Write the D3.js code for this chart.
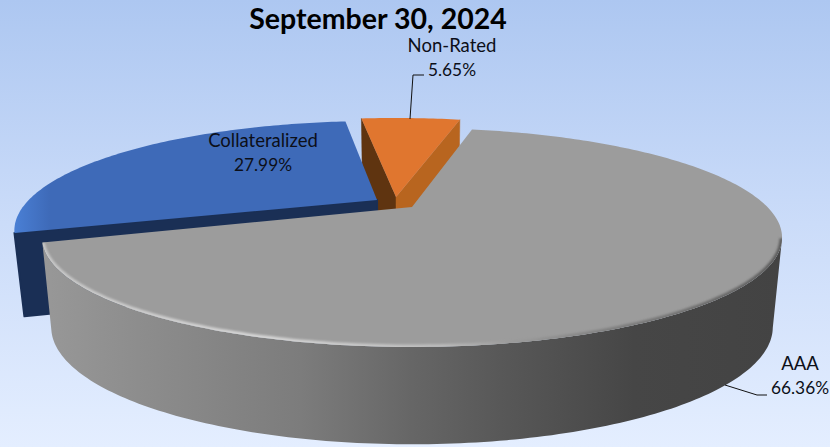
<!DOCTYPE html>
<html>
<head>
<meta charset="utf-8">
<script src="https://cdn.jsdelivr.net/npm/d3@7/dist/d3.min.js"></script>
<style>
  html, body { margin: 0; padding: 0; background: #e3eeff; }
  svg { display: block; }
  text { font-family: Lato, "Open Sans", sans-serif; fill: #0c0f18; }
</style>
</head>
<body>
<svg id="chart" width="830" height="447"></svg>
<script>
// Portfolio composition
const titleText = "September 30, 2024";
const categories = ["AAA", "Collateralized", "Non-Rated"];
const shares = [66.36, 27.99, 5.65];

// Tilted-disc projection
const W = 830, H = 447;
const cx = 412, cy = 207;
const radiusX = 355.4, radiusY = 101, perspective = 0.2785;
const firstSliceAngle = 12.4 * Math.PI / 180;
const depthScaleX = 0.975, depthScaleY = 1.07, depthShift = 73;

// Pull-out of each slice, angular correction, width scale, wall height trim
const pullDx = [0, -35, -16];
const pullDy = [0, -7, -10];
const pullRot = [0, 1.3, 0.8];
const pullScale = [1, 0.98, 1];
const wallTrim = [0, -6, 0];

// Colours per slice: top, cut face at slice start, cut face at slice end
const topFill = ["#9c9c9c", "url(#blueTop)", "#e0762f"];
const cutStart = [null, "#1a2f55", "#5f3410"];
const cutEnd = [null, null, "#b8651f"];

const svg = d3.select("#chart");
const defs = svg.append("defs");

function linear(id, attrs, stops) {
  const g = defs.append("linearGradient").attr("id", id).attr("gradientUnits", "userSpaceOnUse");
  Object.entries(attrs).forEach(([k, v]) => g.attr(k, v));
  stops.forEach(([o, c]) => g.append("stop").attr("offset", o).attr("stop-color", c));
}
linear("backdrop", {x1: 0, y1: 0, x2: 0, y2: H},
  [[0, "#adc7f1"], [0.5, "#cbdcf9"], [1, "#e4eeff"]]);
linear("wallShade", {x1: 42, y1: 0, x2: 782, y2: 0},
  [[0, "#989898"], [0.13, "#8d8d8d"], [0.35, "#7c7c7c"], [0.5, "#666666"],
   [0.62, "#585858"], [0.8, "#464646"], [1, "#434343"]]);
linear("blueTop", {x1: 13, y1: 0, x2: 50, y2: 0},
  [[0, "#4a80d6"], [1, "#3e6ab8"]]);
linear("rimShade", {x1: 42, y1: 0, x2: 782, y2: 0},
  [[0, "#c6c6c6"], [0.3, "#d6d6d6"], [0.54, "#bcbcbc"], [0.63, "#9c9c9c"],
   [0.76, "#808080"], [1, "#5c5c5c"]]);
defs.append("filter").attr("id", "soft").attr("x", "-5%").attr("y", "-5%").attr("width", "110%").attr("height", "110%")
  .append("feGaussianBlur").attr("stdDeviation", 1);

svg.append("rect").attr("width", W).attr("height", H).attr("fill", "url(#backdrop)");

const arcs = d3.pie().sort(null).startAngle(firstSliceAngle).endAngle(firstSliceAngle + 2 * Math.PI)(shares);

// Disc coordinates to screen, r = 0..1 from the slice apex
const project = (theta, r, i) => {
  const a = theta + pullRot[i] * Math.PI / 180;
  const u = r * Math.sin(a), v = -r * Math.cos(a);
  const w = 1 - perspective * v;
  return [cx + pullDx[i] + pullScale[i] * radiusX * u / w, cy + pullDy[i] + radiusY * v / w];
};
const lowerOf = i => ([x, y]) => [cx + (x - cx) * depthScaleX, y * depthScaleY + depthShift + wallTrim[i]];
const line = d3.line();

const rimPoints = (d, i) => {
  const n = Math.ceil((d.endAngle - d.startAngle) * 60);
  return d3.range(n + 1).map(k => project(d.startAngle + (d.endAngle - d.startAngle) * k / n, 1, i));
};

function drawSlice(i) {
  const d = arcs[i];
  const rim = rimPoints(d, i);
  const apex = project(0, 0, i);
  const lower = lowerOf(i);
  const g = svg.append("g").attr("class", "slice-" + i);
  const first = rim[0], last = rim[rim.length - 1];

  // outer wall: only the camera-facing stretch of the rim
  let facing = [];
  if (i === 0) facing = rim.slice(d3.greatestIndex(rim, p => p[0]));
  if (i === 1) facing = rim.slice(0, d3.leastIndex(rim, p => p[0]) + 1);
  if (facing.length > 1) {
    g.append("path")
      .attr("d", line(facing.concat(facing.map(lower).reverse())) + "Z")
      .attr("fill", i === 0 ? "url(#wallShade)" : cutStart[i]);
  }

  if (i !== 0) {
    // faces exposed by pulling the slice out
    [[first, cutStart[i]], [last, cutEnd[i]]].filter(([, fill]) => fill).forEach(([p, fill]) => {
      g.append("path")
        .attr("d", line([p, apex, lower(apex), lower(p)]) + "Z")
        .attr("fill", fill)
        .attr("stroke", fill)
        .attr("stroke-width", i === 1 ? 2 : 0.5)
        .attr("stroke-linejoin", "round");
    });
  }

  // top face
  const face = line([apex].concat(rim)) + "Z";
  g.append("path").attr("d", face).attr("fill", topFill[i]);

  if (i === 0) {
    // bevel along the front edge of the disc
    defs.append("clipPath").attr("id", "faceClip").append("path").attr("d", face);
    const front = rim.slice(d3.greatestIndex(rim, p => p[0]));
    g.append("g").attr("clip-path", "url(#faceClip)")
      .append("path").attr("d", line(front))
      .attr("fill", "none").attr("stroke", "url(#rimShade)")
      .attr("stroke-width", 5).attr("filter", "url(#soft)");
  }
}

// back to front
[2, 1, 0].forEach(drawSlice);

// Leader lines
const leaders = [
  [[410, 119], [413, 75], [424, 75]],
  [[725, 385], [757, 395], [767, 395]]
];
svg.selectAll("path.leader").data(leaders).join("path")
  .attr("class", "leader")
  .attr("d", d => line(d))
  .attr("fill", "none").attr("stroke", "#111").attr("stroke-width", 1);

// Title and value labels
svg.append("text").attr("x", 378).attr("y", 28.5).attr("text-anchor", "middle")
  .attr("font-size", 28.5).attr("font-weight", 700).style("fill", "#000").text(titleText);

const labelX = [800, 263, 452];
const labelY = [370, 147, 52];
categories.forEach((name, i) => {
  const t = svg.append("text").attr("text-anchor", "middle");
  t.append("tspan").attr("x", labelX[i]).attr("y", labelY[i]).attr("font-size", 18.5).text(name);
  t.append("tspan").attr("x", labelX[i]).attr("y", labelY[i] + 24).attr("font-size", 17.3).text(shares[i].toFixed(2) + "%");
});
</script>
</body>
</html>
